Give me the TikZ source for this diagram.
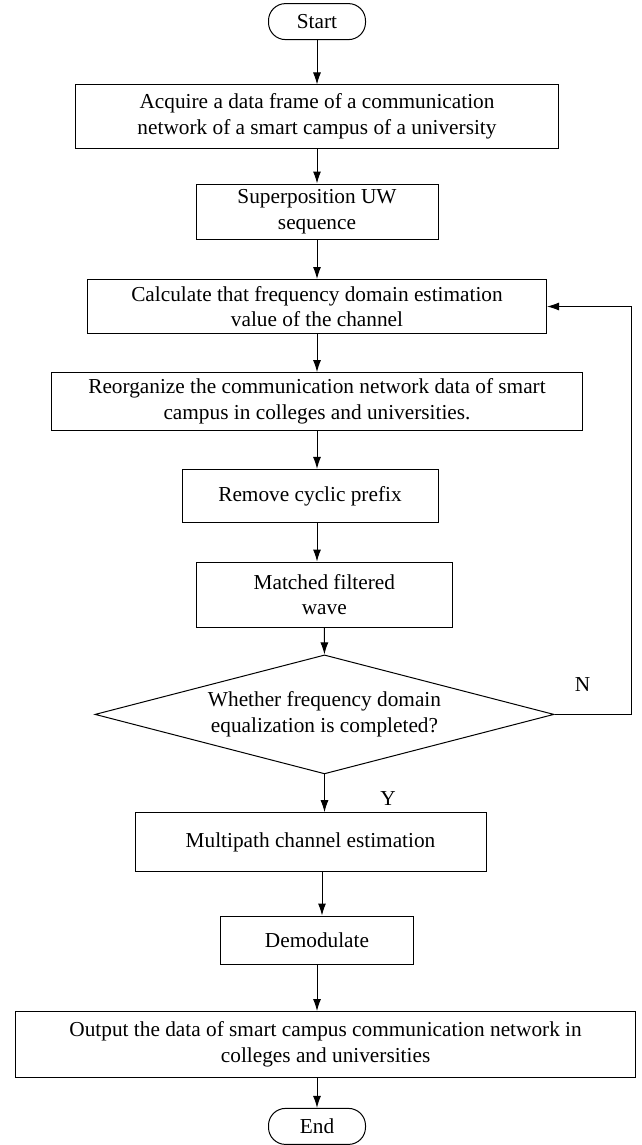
\documentclass[tikz,border=0pt]{standalone}
\usepackage{fontspec}
\setmainfont{Liberation Serif}
\usetikzlibrary{arrows.meta, positioning, shapes.geometric}

\begin{document}
\begin{tikzpicture}[x=1pt, y=-1pt,
  proc/.style={draw, line width=1pt, minimum height=54pt, align=center, font=\fontsize{21.3}{25.5}\selectfont, inner sep=2pt},
  term/.style={draw, line width=1pt, rounded corners=17pt, minimum width=97pt, minimum height=36pt, font=\fontsize{21.3}{25.5}\selectfont},
  decide/.style={draw, line width=1pt, diamond, aspect=3.9, minimum width=459pt, minimum height=119pt, align=center, font=\fontsize{21.3}{25.5}\selectfont, inner sep=0pt},
  lbl/.style={font=\fontsize{21.3}{25.5}\selectfont},
  arr/.style={-{Latex[length=12pt, width=8pt]}, line width=1pt}
]
  \useasboundingbox (0,0) rectangle (641,1145);

  % Terminals and steps
  \node[term] (start) at (317,21.6) {Start};
  \node[proc, minimum width=483pt, minimum height=63pt] (acq) at (317,116.5) {Acquire a data frame of a communication\\network of a smart campus of a university};
  \node[proc, minimum width=242pt, minimum height=55pt] (uw) at (317,211.5) {Superposition UW\\sequence};
  \node[proc, minimum width=459pt] (calc) at (317,306.5) {Calculate that frequency domain estimation\\value of the channel};
  \node[proc, minimum width=531pt, minimum height=57.5pt] (reorg) at (317,401.4) {Reorganize the communication network data of smart\\campus in colleges and universities.};
  \node[proc, minimum width=256pt, minimum height=53.5pt] (cp) at (310,496.2) {Remove cyclic prefix};
  \node[proc, minimum width=256pt, minimum height=65.5pt] (mf) at (324.3,594.8) {Matched filtered\\wave};
  \node[decide] (fde) at (324.5,714.4) {Whether frequency domain\\equalization is completed?};
  \node[proc, minimum width=351pt, minimum height=59pt] (mce) at (310.5,842.2) {Multipath channel estimation};
  \node[proc, minimum width=193pt, minimum height=48pt] (demod) at (317,940) {Demodulate};
  \node[proc, minimum width=620pt, minimum height=65.5pt] (out) at (325.6,1044.3) {Output the data of smart campus communication network in\\colleges and universities};
  \node[term] (end) at (317,1126.4) {End};

  % Branch labels
  \node[lbl] (no) at (582.6,685) {N};
  \node[lbl] (yes) at (388,798.5) {Y};
  \coordinate (back) at (631.6,714.4);

  % Connections
  \draw[arr] (start) -- (acq);
  \draw[arr] (acq) -- (uw);
  \draw[arr] (uw) -- (calc);
  \draw[arr] (calc) -- (reorg);
  \draw[arr] (reorg) -- (reorg |- cp.north);
  \draw[arr] (cp.south -| reorg) -- (mf.north -| reorg);
  \draw[arr] (mf) -- (fde);
  \draw[arr] (fde.south) -- (fde.south |- mce.north);
  \draw[arr] ([xshift=5pt]demod.north |- mce.south) -- ([xshift=5pt]demod.north);
  \draw[arr] (demod.south) -- (demod.south |- out.north);
  \draw[arr] (end.north |- out.south) -- (end);
  \draw[arr] (fde.east) -- (back) |- (calc.east);
\end{tikzpicture}
\end{document}
